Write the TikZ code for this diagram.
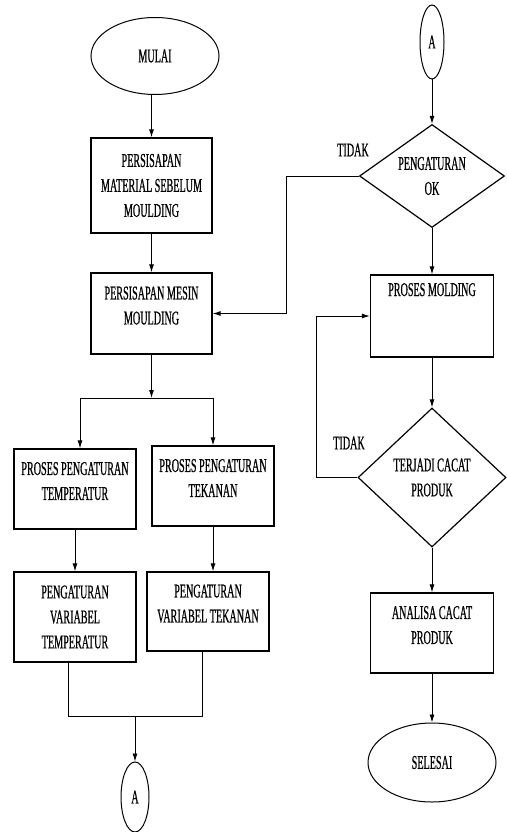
\documentclass[tikz,border=0pt]{standalone}
\usepackage{fontspec}
\setmainfont{Liberation Serif}[FakeStretch=0.52, FakeBold=0.6]
\usetikzlibrary{arrows.meta,shapes.geometric}

\begin{document}
\begin{tikzpicture}[x=1pt, y=-1pt,
    every node/.style={font=\fontsize{19.5}{25}\selectfont, inner sep=0pt, align=center},
    terminal/.style={draw, ellipse, line width=1pt, minimum width=128, minimum height=77},
    konektor/.style={draw, ellipse, line width=1pt, minimum width=28, minimum height=70},
    proses/.style={draw, rectangle, line width=1.3pt, minimum width=122, minimum height=80},
    keputusan/.style={draw, diamond, aspect=1.4, line width=1.2pt},
    naik/.style={text depth=16pt},
    garis/.style={line width=0.9pt},
    panah/.style={garis, -{Latex[width=5pt,length=8pt]}}]
    \useasboundingbox (0,0) rectangle (506,832);

    % kolom kiri
    \node[terminal] (mulai) at (155,56) {MULAI};
    \node[proses, minimum width=121, minimum height=95] (siapmat) at (151.5,185.5) {PERSISAPAN\\MATERIAL SEBELUM\\MOULDING};
    \node[proses, naik, minimum width=121, minimum height=81] (siapmesin) at (151.5,313.5) {PERSISAPAN MESIN\\MOULDING};
    \node[proses, naik] (prostemp) at (75,489) {PROSES PENGATURAN\\TEMPERATUR};
    \node[proses, naik] (prostekan) at (213,486) {PROSES PENGATURAN\\TEKANAN};
    \node[proses, minimum height=90] (vartemp) at (75,617) {PENGATURAN\\VARIABEL\\TEMPERATUR};
    \node[proses, naik, minimum height=79] (vartekan) at (208,611.5) {PENGATURAN\\VARIABEL TEKANAN};
    \node[konektor] (akhirA) at (135,797) {A};

    \coordinate (pisahKi) at (80,398);
    \coordinate (pisahKa) at (213,398);
    \coordinate (gabungKi) at (68,716);
    \coordinate (gabungKa) at (202,716);

    \draw[panah] (mulai.south -| siapmat.north) -- (siapmat.north);
    \draw[panah] (siapmat) -- (siapmesin);
    \draw[panah] (siapmesin.south) -- (siapmesin.south |- pisahKi);
    \draw[garis] (pisahKi) -- (pisahKa);
    \draw[panah] (pisahKi) -- (pisahKi |- prostemp.north);
    \draw[panah] (pisahKa) -- (prostekan.north);
    \draw[panah] (prostemp) -- (vartemp);
    \draw[panah] (prostekan.south) -- (prostekan.south |- vartekan.north);
    \draw[garis] (vartemp.south -| gabungKi) -- (gabungKi) -- (gabungKa) -- (vartekan.south -| gabungKa);
    \draw[panah] (akhirA.north |- gabungKi) -- (akhirA.north);

    % kolom kanan
    \node[konektor, minimum width=24, minimum height=74] (awalA) at (432,42) {A};
    \node[keputusan, minimum width=145, minimum height=103] (cekatur) at (432,176) {PENGATURAN\\OK};
    \node[proses, minimum width=123, minimum height=82, text height=21pt, text depth=61pt] (molding) at (432,316) {PROSES MOLDING};
    \node[keputusan, minimum width=148, minimum height=139] (cacat) at (432,477.5) {TERJADI CACAT\\PRODUK};
    \node[proses, naik, minimum width=123] (analisa) at (432,633) {ANALISA CACAT\\PRODUK};
    \node[terminal, minimum height=79] (selesai) at (432,762.5) {SELESAI};
    \node (tidakA) at (353,150) {TIDAK};
    \node (tidakB) at (349,443) {TIDAK};

    \coordinate (ulangAtur) at (286,176);
    \coordinate (ulangCacat) at (316,478);

    \draw[panah] (awalA) -- (cekatur);
    \draw[panah] (cekatur) -- (molding);
    \draw[panah] (molding) -- (cacat);
    \draw[panah] (cacat) -- (analisa);
    \draw[panah] (analisa) -- (selesai);
    \draw[panah] (cekatur.west) -- (cekatur.west -| ulangAtur) |- (siapmesin.east);
    \draw[panah] (cacat.west) -- (cacat.west -| ulangCacat) |- (molding.west);
\end{tikzpicture}
\end{document}
